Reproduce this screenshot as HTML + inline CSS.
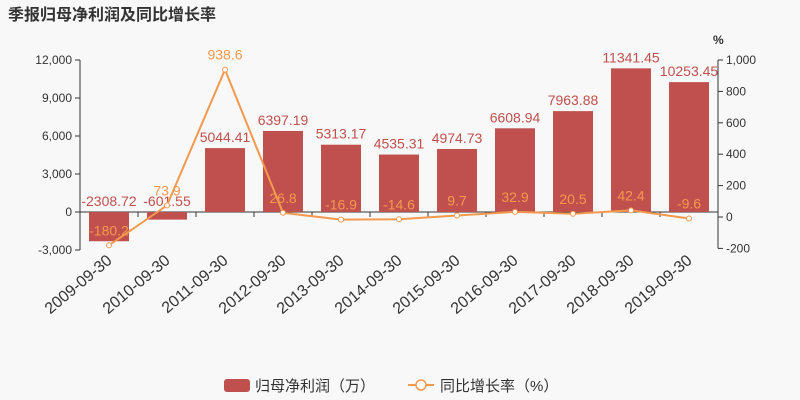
<!DOCTYPE html>
<html><head><meta charset="utf-8"><style>
body{margin:0;background:#f8f8f8;}
svg{display:block;font-family:"Liberation Sans","Noto Sans CJK SC",sans-serif;}
</style></head><body>
<svg id="c" width="800" height="400">
<text x="8" y="20" font-size="16" font-weight="bold" fill="#333">季报归母净利润及同比增长率</text>
<text x="713" y="44" font-size="12" font-weight="bold" fill="#333">%</text>
<g id="g"></g>
<g>
<rect x="224" y="379" width="26" height="13" rx="3" fill="#c0504d"/>
<text x="255" y="391" font-size="15" fill="#333">归母净利润（万）</text>
<line x1="408" y1="385" x2="434" y2="385" stroke="#f5994e" stroke-width="2"/>
<circle cx="421" cy="385" r="5" fill="#fff" stroke="#f5994e" stroke-width="1.5"/>
<text x="440" y="391" font-size="15" fill="#333">同比增长率（%）</text>
</g>
</svg>
<script>
const categories=["2009-09-30","2010-09-30","2011-09-30","2012-09-30","2013-09-30","2014-09-30","2015-09-30","2016-09-30","2017-09-30","2018-09-30","2019-09-30"];
const profit=[-2308.72,-601.55,5044.41,6397.19,5313.17,4535.31,4974.73,6608.94,7963.88,11341.45,10253.45];
const growth=[-180.2,73.9,938.6,26.8,-16.9,-14.6,9.7,32.9,20.5,42.4,-9.6];
const leftTicks=[-3000,0,3000,6000,9000,12000];
const rightTicks=[-200,0,200,400,600,800,1000];
const NS="http://www.w3.org/2000/svg",g=document.getElementById('g');
const X0=80,X1=718,bw=(X1-X0)/categories.length;
const yL=v=>212-v*(152/12000);
const yR=v=>217-v*(157/1000);
const xC=i=>X0+bw*(i+0.5);
function mk(t,a,txt){const e=document.createElementNS(NS,t);for(const k in a)e.setAttribute(k,a[k]);if(txt!=null)e.textContent=txt;g.appendChild(e);return e;}
let e;
e=mk('line',{x1:X0,y1:yL(12000),x2:X0,y2:yL(-3000),stroke:'#333'});


e=mk('line',{x1:X1,y1:yR(1000),x2:X1,y2:yR(-200),stroke:'#333'});


leftTicks.forEach(v=>{
 e=mk('line',{x1:X0-5,y1:yL(v),x2:X0,y2:yL(v),stroke:'#333'});
 
 
 e=mk('text',{x:X0-8,y:yL(v)+4,'font-size':12,fill:'#333','text-anchor':'end'},v.toLocaleString('en-US'));
 
 
});
rightTicks.forEach(v=>{
 e=mk('line',{x1:X1,y1:yR(v),x2:X1+5,y2:yR(v),stroke:'#333'});
 
 
 e=mk('text',{x:X1+8,y:yR(v)+4,'font-size':12,fill:'#333'},String(v).replace(/\B(?=(\d{3})+$)/,','));
 
 
});
e=mk('line',{x1:X0,y1:yL(0),x2:X1,y2:yL(0),stroke:'#333'});


categories.forEach((c,i)=>{
 const x=X0+bw*(i+1);
 e=mk('line',{x1:x,y1:yL(0),x2:x,y2:yL(0)+5,stroke:'#333'});
 
 
 const cx=xC(i);
 e=mk('text',{x:cx+4,y:262,'font-size':16,fill:'#333','text-anchor':'end',transform:`rotate(-40 ${cx+4} 262)`},c);
 
 
});
profit.forEach((v,i)=>{
 const y0=yL(0),y=yL(v);
 e=mk('rect',{x:xC(i)-20,y:Math.min(y0,y),width:40,height:Math.abs(y-y0),fill:'#c0504d'});
 
 
});
profit.forEach((v,i)=>{
 const ly=v>=0?yL(v)-6:yL(0)-6;
 e=mk('text',{x:xC(i),y:ly,'font-size':14,fill:'#c0504d','text-anchor':'middle'},String(v));
 
 
});
e=mk('polyline',{points:growth.map((v,i)=>xC(i)+','+yR(v)).join(' '),fill:'none',stroke:'#f5994e','stroke-width':2});


growth.forEach((v,i)=>{
 e=mk('circle',{cx:xC(i),cy:yR(v),r:2.5,fill:'#fff',stroke:'#f5994e','stroke-width':1});
 
 
 e=mk('text',{x:xC(i),y:yR(v)-10,'font-size':14,fill:'#f5994e','text-anchor':'middle'},String(v));
 
 
});
</script>
</body></html>
